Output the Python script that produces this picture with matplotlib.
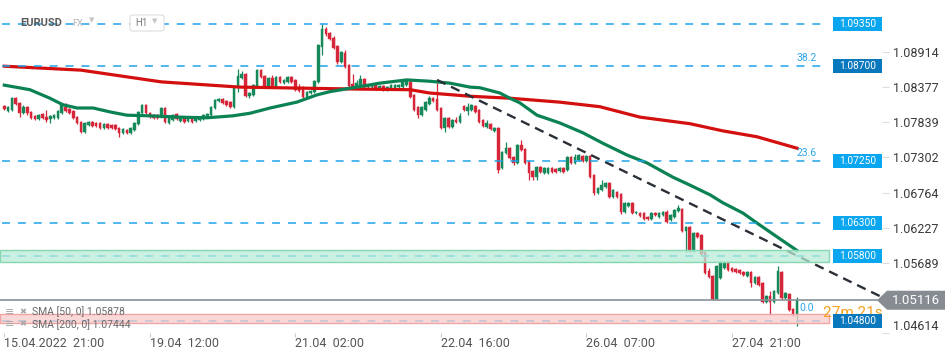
#!/usr/bin/env python3
"""EURUSD H1 candlestick chart with SMA(50)/SMA(200), levels and a trendline."""

import numpy as np
import matplotlib
matplotlib.use("Agg")
import matplotlib.pyplot as plt
from matplotlib.patches import FancyBboxPatch, Polygon, Rectangle

plt.rcParams["font.family"] = ["Roboto", "DejaVu Sans"]

# ---------------------------------------------------------------------------
# Data (one candle per hour)
# ---------------------------------------------------------------------------

opens = [
    1.0809, 1.0802, 1.0803, 1.0821, 1.0814, 1.0798, 1.0808, 1.0800, 1.0794, 1.0789,
    1.0797, 1.0792, 1.0789, 1.0791, 1.0791, 1.0798, 1.0808, 1.0805, 1.0802, 1.0792,
    1.0785, 1.0769, 1.0780, 1.0785, 1.0783, 1.0783, 1.0775, 1.0782, 1.0780, 1.0780,
    1.0775, 1.0768, 1.0772, 1.0768, 1.0772, 1.0782, 1.0798, 1.0811, 1.0798, 1.0795,
    1.0795, 1.0792, 1.0806, 1.0783, 1.0788, 1.0797, 1.0786, 1.0792, 1.0786, 1.0791,
    1.0786, 1.0788, 1.0789, 1.0792, 1.0795, 1.0806, 1.0817, 1.0820, 1.0817, 1.0815,
    1.0808, 1.0838, 1.0852, 1.0858, 1.0824, 1.0826, 1.0838, 1.0864, 1.0855, 1.0840,
    1.0852, 1.0840, 1.0854, 1.0844, 1.0846, 1.0854, 1.0849, 1.0837, 1.0838, 1.0823,
    1.0829, 1.0831, 1.0846, 1.0899, 1.0927, 1.0921, 1.0913, 1.0901, 1.0877, 1.0890,
    1.0872, 1.0843, 1.0840, 1.0838, 1.0851, 1.0838, 1.0838, 1.0841, 1.0835, 1.0840,
    1.0834, 1.0837, 1.0837, 1.0838, 1.0838, 1.0841, 1.0846, 1.0826, 1.0808, 1.0795,
    1.0803, 1.0812, 1.0821, 1.0820, 1.0806, 1.0775, 1.0791, 1.0777, 1.0788, 1.0785,
    1.0809, 1.0802, 1.0803, 1.0809, 1.0803, 1.0788, 1.0777, 1.0782, 1.0771, 1.0775,
    1.0714, 1.0737, 1.0745, 1.0731, 1.0722, 1.0749, 1.0743, 1.0723, 1.0710, 1.0700,
    1.0716, 1.0707, 1.0707, 1.0714, 1.0713, 1.0710, 1.0714, 1.0711, 1.0731, 1.0722,
    1.0726, 1.0733, 1.0725, 1.0733, 1.0703, 1.0676, 1.0681, 1.0685, 1.0691, 1.0670,
    1.0678, 1.0674, 1.0647, 1.0656, 1.0661, 1.0645, 1.0645, 1.0645, 1.0639, 1.0636,
    1.0645, 1.0639, 1.0642, 1.0647, 1.0635, 1.0639, 1.0648, 1.0651, 1.0618, 1.0624,
    1.0587, 1.0615, 1.0612, 1.0586, 1.0557, 1.0549, 1.0514, 1.0546, 1.0561, 1.0570,
    1.0561, 1.0560, 1.0558, 1.0555, 1.0549, 1.0555, 1.0538, 1.0547, 1.0538, 1.0509,
    1.0518, 1.0509, 1.0523, 1.0555, 1.0515, 1.0521, 1.0498, 1.0489,
]
highs = [
    1.0811, 1.0809, 1.0823, 1.0823, 1.0815, 1.0810, 1.0809, 1.0801, 1.0795, 1.0797,
    1.0799, 1.0803, 1.0795, 1.0797, 1.0803, 1.0812, 1.0814, 1.0806, 1.0803, 1.0794,
    1.0786, 1.0785, 1.0786, 1.0786, 1.0785, 1.0785, 1.0783, 1.0783, 1.0782, 1.0782,
    1.0777, 1.0775, 1.0774, 1.0777, 1.0785, 1.0801, 1.0812, 1.0812, 1.0800, 1.0797,
    1.0797, 1.0808, 1.0808, 1.0792, 1.0797, 1.0798, 1.0794, 1.0794, 1.0792, 1.0792,
    1.0794, 1.0794, 1.0797, 1.0798, 1.0809, 1.0820, 1.0821, 1.0821, 1.0818, 1.0817,
    1.0840, 1.0866, 1.0862, 1.0860, 1.0831, 1.0843, 1.0866, 1.0866, 1.0857, 1.0854,
    1.0857, 1.0855, 1.0855, 1.0851, 1.0855, 1.0855, 1.0851, 1.0843, 1.0840, 1.0832,
    1.0834, 1.0849, 1.0904, 1.0935, 1.0930, 1.0923, 1.0916, 1.0903, 1.0893, 1.0895,
    1.0873, 1.0858, 1.0849, 1.0857, 1.0852, 1.0843, 1.0843, 1.0843, 1.0841, 1.0841,
    1.0840, 1.0843, 1.0843, 1.0843, 1.0849, 1.0851, 1.0849, 1.0827, 1.0809, 1.0809,
    1.0817, 1.0824, 1.0823, 1.0844, 1.0808, 1.0792, 1.0792, 1.0789, 1.0792, 1.0798,
    1.0811, 1.0814, 1.0812, 1.0811, 1.0805, 1.0789, 1.0788, 1.0783, 1.0777, 1.0777,
    1.0740, 1.0754, 1.0746, 1.0733, 1.0751, 1.0757, 1.0745, 1.0726, 1.0711, 1.0717,
    1.0717, 1.0716, 1.0716, 1.0716, 1.0714, 1.0716, 1.0716, 1.0733, 1.0733, 1.0736,
    1.0736, 1.0734, 1.0734, 1.0734, 1.0705, 1.0685, 1.0696, 1.0693, 1.0693, 1.0682,
    1.0679, 1.0676, 1.0662, 1.0662, 1.0662, 1.0649, 1.0647, 1.0647, 1.0641, 1.0647,
    1.0647, 1.0647, 1.0648, 1.0650, 1.0644, 1.0651, 1.0657, 1.0653, 1.0626, 1.0626,
    1.0616, 1.0616, 1.0613, 1.0587, 1.0561, 1.0550, 1.0566, 1.0572, 1.0572, 1.0572,
    1.0563, 1.0561, 1.0560, 1.0557, 1.0557, 1.0557, 1.0549, 1.0549, 1.0540, 1.0520,
    1.0526, 1.0527, 1.0564, 1.0557, 1.0524, 1.0523, 1.0499, 1.0516,
]
lows = [
    1.0803, 1.0800, 1.0802, 1.0810, 1.0792, 1.0797, 1.0796, 1.0789, 1.0788, 1.0788,
    1.0789, 1.0785, 1.0783, 1.0789, 1.0789, 1.0797, 1.0800, 1.0797, 1.0789, 1.0782,
    1.0768, 1.0768, 1.0779, 1.0777, 1.0777, 1.0774, 1.0774, 1.0774, 1.0774, 1.0772,
    1.0762, 1.0766, 1.0766, 1.0766, 1.0771, 1.0780, 1.0797, 1.0797, 1.0791, 1.0789,
    1.0789, 1.0791, 1.0783, 1.0782, 1.0786, 1.0788, 1.0785, 1.0783, 1.0785, 1.0783,
    1.0785, 1.0786, 1.0788, 1.0791, 1.0794, 1.0805, 1.0815, 1.0812, 1.0809, 1.0806,
    1.0806, 1.0831, 1.0850, 1.0823, 1.0821, 1.0824, 1.0837, 1.0852, 1.0838, 1.0838,
    1.0837, 1.0838, 1.0844, 1.0843, 1.0844, 1.0844, 1.0832, 1.0830, 1.0821, 1.0821,
    1.0828, 1.0829, 1.0845, 1.0887, 1.0917, 1.0910, 1.0896, 1.0874, 1.0875, 1.0867,
    1.0838, 1.0837, 1.0838, 1.0837, 1.0837, 1.0837, 1.0837, 1.0834, 1.0834, 1.0832,
    1.0832, 1.0835, 1.0835, 1.0837, 1.0837, 1.0840, 1.0821, 1.0802, 1.0791, 1.0794,
    1.0802, 1.0811, 1.0815, 1.0802, 1.0774, 1.0769, 1.0775, 1.0775, 1.0783, 1.0783,
    1.0801, 1.0795, 1.0802, 1.0798, 1.0783, 1.0777, 1.0775, 1.0772, 1.0769, 1.0707,
    1.0712, 1.0736, 1.0728, 1.0719, 1.0720, 1.0740, 1.0720, 1.0696, 1.0696, 1.0696,
    1.0706, 1.0705, 1.0705, 1.0707, 1.0707, 1.0708, 1.0707, 1.0710, 1.0720, 1.0720,
    1.0725, 1.0723, 1.0723, 1.0699, 1.0673, 1.0674, 1.0679, 1.0684, 1.0668, 1.0668,
    1.0668, 1.0644, 1.0645, 1.0654, 1.0644, 1.0644, 1.0639, 1.0635, 1.0635, 1.0635,
    1.0641, 1.0638, 1.0641, 1.0630, 1.0633, 1.0638, 1.0647, 1.0616, 1.0586, 1.0585,
    1.0585, 1.0607, 1.0581, 1.0552, 1.0546, 1.0512, 1.0512, 1.0544, 1.0559, 1.0556,
    1.0555, 1.0553, 1.0552, 1.0549, 1.0547, 1.0532, 1.0536, 1.0533, 1.0507, 1.0507,
    1.0489, 1.0507, 1.0521, 1.0513, 1.0513, 1.0495, 1.0487, 1.0472,
]
closes = [
    1.0805, 1.0808, 1.0821, 1.0812, 1.0798, 1.0808, 1.0798, 1.0791, 1.0789, 1.0795,
    1.0791, 1.0788, 1.0794, 1.0795, 1.0801, 1.0811, 1.0802, 1.0798, 1.0791, 1.0783,
    1.0769, 1.0783, 1.0785, 1.0779, 1.0779, 1.0775, 1.0782, 1.0775, 1.0775, 1.0774,
    1.0768, 1.0774, 1.0768, 1.0775, 1.0783, 1.0800, 1.0811, 1.0798, 1.0792, 1.0791,
    1.0791, 1.0806, 1.0785, 1.0791, 1.0795, 1.0789, 1.0792, 1.0785, 1.0791, 1.0785,
    1.0792, 1.0792, 1.0795, 1.0797, 1.0808, 1.0818, 1.0820, 1.0814, 1.0811, 1.0808,
    1.0838, 1.0855, 1.0858, 1.0824, 1.0829, 1.0841, 1.0864, 1.0854, 1.0840, 1.0852,
    1.0838, 1.0854, 1.0846, 1.0849, 1.0854, 1.0846, 1.0834, 1.0832, 1.0823, 1.0831,
    1.0832, 1.0847, 1.0903, 1.0927, 1.0919, 1.0912, 1.0898, 1.0877, 1.0892, 1.0869,
    1.0840, 1.0838, 1.0844, 1.0851, 1.0838, 1.0841, 1.0841, 1.0835, 1.0840, 1.0834,
    1.0838, 1.0841, 1.0841, 1.0841, 1.0846, 1.0849, 1.0823, 1.0803, 1.0795, 1.0808,
    1.0815, 1.0821, 1.0817, 1.0803, 1.0775, 1.0791, 1.0777, 1.0788, 1.0785, 1.0794,
    1.0803, 1.0808, 1.0811, 1.0800, 1.0785, 1.0779, 1.0783, 1.0774, 1.0775, 1.0711,
    1.0739, 1.0745, 1.0730, 1.0722, 1.0749, 1.0742, 1.0722, 1.0707, 1.0700, 1.0716,
    1.0708, 1.0714, 1.0714, 1.0708, 1.0708, 1.0714, 1.0708, 1.0731, 1.0722, 1.0731,
    1.0734, 1.0725, 1.0733, 1.0700, 1.0676, 1.0684, 1.0688, 1.0691, 1.0670, 1.0681,
    1.0670, 1.0647, 1.0661, 1.0661, 1.0645, 1.0647, 1.0641, 1.0636, 1.0636, 1.0645,
    1.0642, 1.0645, 1.0647, 1.0632, 1.0642, 1.0650, 1.0653, 1.0618, 1.0624, 1.0587,
    1.0615, 1.0609, 1.0583, 1.0553, 1.0547, 1.0514, 1.0564, 1.0570, 1.0569, 1.0558,
    1.0557, 1.0555, 1.0553, 1.0550, 1.0555, 1.0538, 1.0547, 1.0535, 1.0509, 1.0518,
    1.0509, 1.0526, 1.0557, 1.0515, 1.0523, 1.0497, 1.0489, 1.05116,
]

# moving averages, sampled along the drawn curves (x = candle number)
sma50_x = [0, 6.7, 11.9, 15.3, 19, 23.2, 27.6, 32, 38, 45.9, 52.9, 59.7, 64.2,
           69.4, 76.4, 81.6, 85, 92.1, 98, 105.1, 111.1, 116.4, 121.6, 124.2,
           129.4, 132, 134.6, 139.1, 145.1, 151.1, 156.3, 162.6, 167.8, 174.6,
           179, 184.3, 187.6, 192.9, 196.5, 201.7, 207]
sma50_y = [1.0841, 1.0834, 1.0821, 1.0811, 1.0806, 1.0806, 1.0800, 1.0795, 1.0794,
           1.0792, 1.0791, 1.0794, 1.0798, 1.0806, 1.0815, 1.0826, 1.0831, 1.0838,
           1.0844, 1.0849, 1.0847, 1.0844, 1.0838, 1.0837, 1.0829, 1.0821, 1.0814,
           1.0795, 1.0783, 1.0768, 1.0752, 1.0734, 1.0722, 1.0700, 1.0688, 1.0673,
           1.0661, 1.0645, 1.0630, 1.0609, 1.05878]
sma200_x = [0, 20, 41, 61.5, 92, 106, 111, 121.6, 132, 145, 155.5, 166, 179,
            187.6, 196.5, 207]
sma200_y = [1.0870, 1.0864, 1.0846, 1.0838, 1.0835, 1.0834, 1.0829, 1.0824, 1.0821,
            1.0815, 1.0808, 1.0792, 1.0782, 1.0771, 1.0762, 1.07444]

# hand-drawn trendline (end points)
trend_x = [113, 228.6]
trend_y = [1.0849, 1.0518]

# x axis
time_ticks = [0, 38, 76, 114, 152, 190]
time_labels = ["15.04.2022  21:00", "19.04  12:00", "21.04  02:00",
               "22.04  16:00", "26.04  07:00", "27.04  21:00"]

# y axis
price_ticks = [1.04614, 1.05689, 1.06227, 1.06764, 1.07302, 1.07839, 1.08377, 1.08914]

# horizontal levels, fibonacci tags and zones
levels = [1.0935, 1.0870, 1.0725, 1.0630, 1.0580, 1.0480]
level_dark = [False, True, False, False, False, True]
fib_levels = [1.0870, 1.0725, 1.0480]
fib_tags = ["38.2", "23.6", "0.0"]
green_zone = (1.0570, 1.0589)
red_zone = (1.0476, 1.0491)

last_price = 1.05116
sma50_last = 1.05878
sma200_last = 1.07444
timer_text = "27m 21s"

# ---------------------------------------------------------------------------
# Look
# ---------------------------------------------------------------------------

UP = "#16895a"
DOWN = "#d6263a"
LEVEL_BLUE = "#1ea3ea"
TAG_BLUE = "#0aa6ef"
TAG_DARK = "#0a78bd"
GREY_TAG = "#868c92"

FIG_W, FIG_H = 950, 358
AX_RIGHT_PX = 882
AX_BOTTOM_PX = 333


def draw_candles(ax):
    o = np.asarray(opens)
    h = np.asarray(highs)
    lo = np.asarray(lows)
    c = np.asarray(closes)
    idx = np.arange(len(o))
    colors = np.where(c >= o, UP, DOWN)
    ax.vlines(idx, lo, h, colors=colors, lw=0.9, zorder=3)
    bottom = np.minimum(o, c)
    height = np.maximum(np.abs(c - o), 0.00012)
    ax.bar(idx, height, width=0.68, bottom=bottom, color=colors,
           edgecolor=colors, linewidth=0.3, zorder=4)


def px_fraction(px):
    """Horizontal pixel -> axes fraction."""
    return px / AX_RIGHT_PX


def draw_levels(ax, px_price):
    ytf = ax.get_yaxis_transform()
    line_end = px_fraction(826)
    for lvl in levels:
        ax.axhline(lvl, xmin=0.002, xmax=line_end, color=LEVEL_BLUE, lw=1.1,
                   dashes=(5.2, 5.2), zorder=6)

    # zones sit on top of the candles, slightly see-through
    zone_end = px_fraction(829)
    ax.axhspan(*green_zone, xmax=zone_end, facecolor=(0.72, 0.92, 0.84, 0.75),
               edgecolor="#86d8b3", lw=1.0, zorder=7)
    ax.axhspan(*red_zone, xmax=zone_end, facecolor=(0.98, 0.80, 0.80, 0.75),
               edgecolor="#f0a6a6", lw=1.0, zorder=7)

    for lvl, tag in zip(fib_levels, fib_tags):
        off = 9 if tag == "0.0" else 5.8
        ax.annotate(tag, (209.5, lvl), xytext=(0, off), textcoords="offset points",
                    ha="center", va="center", fontsize=7.5, color="#2aa6ea", zorder=8)

    # price tags on the right
    box_h = 14 * px_price
    for lvl, dark in zip(levels, level_dark):
        ax.add_patch(Rectangle((px_fraction(833), lvl - box_h / 2), px_fraction(49), box_h,
                               transform=ytf, facecolor=TAG_DARK if dark else TAG_BLUE,
                               edgecolor="none", clip_on=False, zorder=11))
        ax.text(px_fraction(857.5), lvl, f"{lvl:.5f}", transform=ytf, ha="center",
                va="center", fontsize=7.3, color="white", zorder=12, clip_on=False)


def draw_last_price(ax, px_price):
    ytf = ax.get_yaxis_transform()
    ax.axhline(last_price, xmax=px_fraction(877), color="#8a9096", lw=1.2, zorder=8)
    half = 9.5 * px_price
    pts = [(px_fraction(877), last_price),
           (px_fraction(887), last_price + half),
           (px_fraction(945), last_price + half),
           (px_fraction(945), last_price - half),
           (px_fraction(887), last_price - half)]
    ax.add_patch(Polygon(pts, closed=True, transform=ytf, facecolor=GREY_TAG,
                         edgecolor="none", clip_on=False, zorder=11))
    ax.text(px_fraction(916), last_price, f"{last_price:.5f}", transform=ytf,
            ha="center", va="center", fontsize=9.5, color="white", zorder=12,
            clip_on=False)
    ax.text(213.8, 1.0492, timer_text, ha="left", va="center", fontsize=11,
            color="#f4a11f", zorder=10, clip_on=False)


def draw_header(fig):
    def fx(px):
        return px / FIG_W

    def fy(py):
        return 1 - py / FIG_H

    fig.text(fx(20), fy(23), "EURUSD", fontsize=8, fontweight="bold",
             color="#5a5a5a", va="center", zorder=20)
    fig.text(fx(72), fy(24), "FX", fontsize=6.5, color="#b4b4b4", va="center")
    fig.text(fx(89), fy(21), "\u25bc", fontsize=5, color="#c4c4c4", va="center")
    fig.add_artist(FancyBboxPatch((fx(130), fy(31)), fx(34), 16 / FIG_H,
                                  boxstyle="round,pad=0,rounding_size=0.004",
                                  transform=fig.transFigure, facecolor="white",
                                  edgecolor="#dddddd", lw=0.8, zorder=19))
    fig.text(fx(135), fy(23.5), "H1", fontsize=7, color="#7a7a7a", va="center", zorder=20)
    fig.text(fx(152), fy(22), "\u25bc", fontsize=5, color="#c4c4c4", va="center", zorder=20)

    # indicator legend, bottom left
    for py, name, val in [(312, "SMA [50, 0]", sma50_last), (324.5, "SMA [200, 0]", sma200_last)]:
        fig.text(fx(5), fy(py), "\u2261", fontsize=8, color="#a8a8a8", va="center", zorder=20)
        fig.text(fx(19), fy(py), "\u2716", fontsize=6, color="#a8a8a8", va="center", zorder=20)
        fig.text(fx(32), fy(py), f"{name} {val:.5f}", fontsize=7.5, color="#6a6a6a",
                 va="center", zorder=20)


def main():
    fig = plt.figure(figsize=(FIG_W / 100, FIG_H / 100), dpi=100)
    ax = fig.add_axes([0, (FIG_H - AX_BOTTOM_PX) / FIG_H,
                       AX_RIGHT_PX / FIG_W, AX_BOTTOM_PX / FIG_H])
    ax.set_xlim(-1.12, 229.2)
    ax.set_ylim(1.04616, 1.09714)
    px_price = (1.09714 - 1.04616) / AX_BOTTOM_PX

    draw_candles(ax)
    ax.plot(sma200_x, sma200_y, color="#d30f0f", lw=2.3, zorder=5)
    ax.plot(sma50_x, sma50_y, color="#0b8253", lw=2.3, zorder=5)
    ax.plot(trend_x, trend_y, color="#2b3038", lw=1.7, dashes=(4, 2.6), zorder=6)
    draw_levels(ax, px_price)
    draw_last_price(ax, px_price)

    for side in ax.spines.values():
        side.set_visible(False)

    ax.yaxis.tick_right()
    ax.set_yticks(price_ticks)
    ax.set_yticklabels([f"{v:.5f}" for v in price_ticks])
    ax.tick_params(axis="y", length=5, width=0.8, color="#dddddd", labelsize=9,
                   labelcolor="#3a3a3a", pad=3)
    ax.get_yticklabels()[0].set_verticalalignment("bottom")

    ax.set_xticks(time_ticks)
    ax.set_xticklabels(time_labels, ha="left")
    ax.tick_params(axis="x", length=3, width=0.8, color="#cccccc", labelsize=9,
                   labelcolor="#555555", pad=0)

    draw_header(fig)
    fig.savefig("out.png", dpi=100, facecolor="white")
    plt.close(fig)


if __name__ == "__main__":
    main()
